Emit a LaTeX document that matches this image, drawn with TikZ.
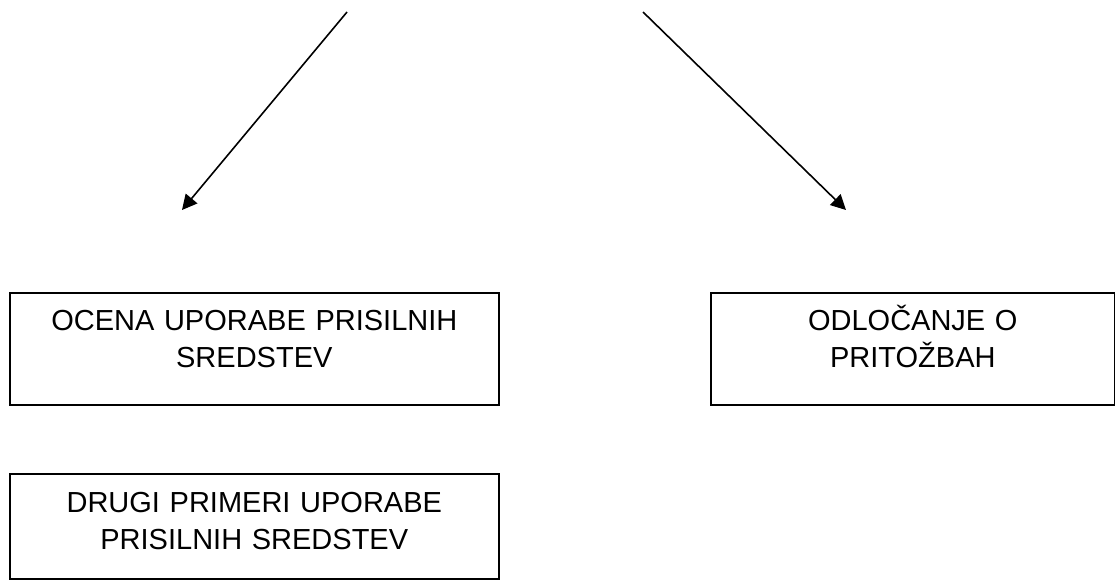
\documentclass[tikz,border=0pt]{standalone}
\usepackage{fontspec}
\setmainfont{Liberation Sans}
\usetikzlibrary{arrows.meta}

\begin{document}
\begin{tikzpicture}[x=1pt,y=-1pt,
  box/.style={draw,line width=1.6pt,anchor=north west,inner xsep=5pt,inner ysep=0pt,
    text width=479pt,align=center,text height=38pt,
    font=\fontsize{29pt}{37pt}\selectfont},
  arr/.style={line width=1.6pt,-{Triangle[length=15pt,width=15pt]}}]
\useasboundingbox (0,0) rectangle (1115,579);
% boxes:
\node[box,text depth=74pt] (ocena) at (9,292) {OCENA UPORABE PRISILNIH\\SREDSTEV};
\node[box,text depth=74pt,text width=394pt] (odlocanje) at (710,292) {ODLOČANJE O\\PRITOŽBAH};
\node[box,text height=39pt,text depth=66pt] (drugi) at (9,473) {DRUGI PRIMERI UPORABE\\PRISILNIH SREDSTEV};
% arrows:
\coordinate (ltop) at (347,12);
\coordinate (lend) at (182,210);
\coordinate (rtop) at (643,12);
\coordinate (rend) at (846,210);
\draw[arr] (ltop) -- (lend);
\draw[arr] (rtop) -- (rend);
\end{tikzpicture}
\end{document}
